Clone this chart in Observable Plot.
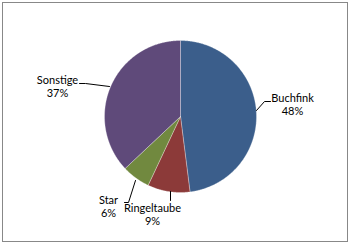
<!DOCTYPE html>
<html>
<head>
<meta charset="utf-8">
<script src="https://cdn.jsdelivr.net/npm/d3@7"></script>
<script src="https://cdn.jsdelivr.net/npm/@observablehq/plot@0.6"></script>
<style>
  html, body { margin: 0; padding: 0; background: #fff; }
  #chart { width: 349px; height: 243px; }
</style>
</head>
<body>
<div id="chart"></div>
<script>
const categories = ["Buchfink", "Ringeltaube", "Star", "Sonstige"];
const shares = [48, 9, 6, 37];
const percentLabels = ["48%", "9%", "6%", "37%"];
const colors = ["#3B5E8B", "#8C3A39", "#71893F", "#5F4A7A"];

// layout (pixel offsets relative to pie centre)
const W = 349, H = 243, CX = 180, CY = 116, R = 76;
const labelOffsets = [[112, -12], [-28, 98], [-72, 90], [-123, -30]];
const leaders = [
  [[76, -6], [84, -15], [90, -15]],
  [[-10, 75], [-10, 84]],
  [[-45, 64], [-52, 86], [-56, 86]],
  [[-71, -30], [-95, -33], [-101, -33]]
];

const total = d3.sum(shares);
const slices = [];
let a0 = 0;
categories.forEach((c, i) => {
  const a1 = a0 + shares[i] / total * 2 * Math.PI;
  slices.push({cat: c, x: 0, y: 0});
  const n = Math.max(2, Math.ceil((a1 - a0) / (Math.PI / 360)));
  for (let k = 0; k <= n; k++) {
    const a = a0 + (a1 - a0) * k / n;
    slices.push({cat: c, x: R * Math.sin(a), y: -R * Math.cos(a)});
  }
  slices.push({cat: c, x: 0, y: 0});
  a0 = a1;
});

const labels = categories.map((c, i) => ({
  text: c + "\n" + percentLabels[i], x: labelOffsets[i][0], y: labelOffsets[i][1]
}));
const leaderPts = leaders.flatMap((pts, i) => pts.map(([x, y]) => ({cat: categories[i], x, y})));

const chart = Plot.plot({
  width: W, height: H,
  margin: 0,
  x: {domain: [-CX, W - CX], range: [0, W], axis: null},
  y: {domain: [-CY, H - CY], range: [0, H], axis: null},
  color: {domain: categories, range: colors},
  style: {fontFamily: "Lato, sans-serif", background: "#fff"},
  marks: [
    Plot.frame({inset: 2, stroke: "#888", strokeWidth: 1}),
    Plot.line(slices, {x: "x", y: "y", z: "cat", fill: "cat", stroke: "#ffffff", strokeOpacity: 0.5, strokeWidth: 0.6, curve: "linear"}),
    Plot.line(leaderPts, {x: "x", y: "y", z: "cat", stroke: "#000", strokeWidth: 1, curve: "linear"}),
    Plot.text(labels, {x: "x", y: "y", text: "text", fontSize: 11, lineHeight: 1.18, textAnchor: "middle", fill: "#000"})
  ]
});
document.getElementById("chart").appendChild(chart);
</script>
</body>
</html>
